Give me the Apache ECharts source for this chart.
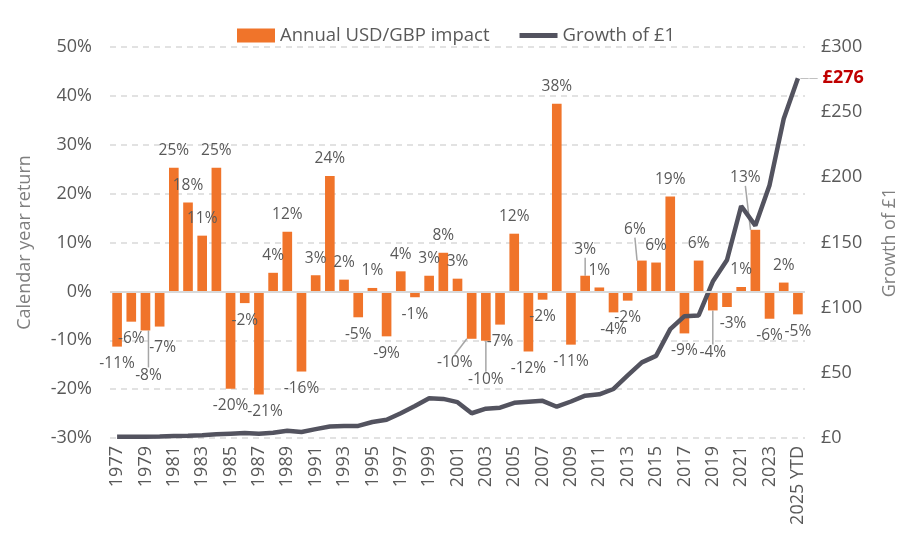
<!DOCTYPE html>
<html>
<head>
<meta charset="utf-8">
<script src="https://cdn.jsdelivr.net/npm/echarts@6/dist/echarts.min.js"></script>
<style>
  html, body { margin: 0; padding: 0; background: #fff; }
  #chart { width: 907px; height: 546px; }
</style>
</head>
<body>
<div id="chart"></div>
<script>
// years on the x axis
var years = ['1977', '1978', '1979', '1980', '1981', '1982', '1983', '1984', '1985', '1986',
    '1987', '1988', '1989', '1990', '1991', '1992', '1993', '1994', '1995', '1996',
    '1997', '1998', '1999', '2000', '2001', '2002', '2003', '2004', '2005', '2006',
    '2007', '2008', '2009', '2010', '2011', '2012', '2013', '2014', '2015', '2016',
    '2017', '2018', '2019', '2020', '2021', '2022', '2023', '2024', '2025 YTD'];

// annual USD/GBP impact, %
var fxImpact = [-11.3, -6.2, -8.0, -7.2, 25.3, 18.2, 11.4, 25.3, -19.9, -2.4,
    -21.1, 3.8, 12.2, -16.4, 3.3, 23.6, 2.4, -5.3, 0.7, -9.2,
    4.1, -1.2, 3.2, 7.9, 2.6, -9.7, -10.1, -6.8, 11.8, -12.3,
    -1.7, 38.4, -10.9, 3.2, 0.8, -4.3, -1.9, 6.3, 5.9, 19.4,
    -8.6, 6.3, -3.9, -3.2, 0.9, 12.6, -5.6, 1.8, -4.7];

// growth of £1, £
var growth = [1, 1, 1, 1.2, 1.5, 1.8, 2.2, 2.8, 3.3, 3.8,
    3.2, 4, 5.5, 4.6, 6.8, 8.8, 9.3, 9.3, 12.3, 14,
    19, 24.5, 30.5, 30, 27.5, 19, 22.5, 23.3, 27, 27.8,
    28.5, 24, 28, 32.5, 33.5, 37.6, 48, 58, 63, 83.5,
    93.5, 94, 120, 136.6, 178, 163, 194, 245, 276];

var leftTicks = { min: -30, max: 50, interval: 10 };
var rightTicks = { min: 0, max: 300, interval: 50 };

// labels nudged off their bars (index -> [dx, dy]), drawn with a leader line
var labelShift = {
    2: [3, 28], 3: [3, 4], 10: [6, 0], 25: [-17, 7], 26: [0, 22],
    33: [0, -9], 37: [-7, -14], 42: [0, 25], 43: [6, 0], 45: [-10, -35]
};

var textColor = '#595959';
var lineColor = '#53535f';
var font = 'Open Sans';

var barData = fxImpact.map(function (v, i) {
    var item = {
        value: v,
        label: { position: v >= 0 ? 'top' : 'bottom' }
    };
    if (labelShift[i] && (Math.abs(labelShift[i][0]) > 8 || Math.abs(labelShift[i][1]) > 8)) {
        item.labelLine = { show: true };
    }
    return item;
});

var chart = echarts.init(document.getElementById('chart'));

var option = {
    backgroundColor: '#fff',
    animation: false,
    textStyle: { fontFamily: font, color: textColor },
    legend: {
        top: 21,
        left: 232,
        itemWidth: 38,
        itemHeight: 14,
        itemGap: 30,
        textStyle: { fontSize: 18.5, color: textColor, fontFamily: font },
        data: [
            { name: 'Annual USD/GBP impact', icon: 'rect' },
            // thin bar inside a 38x14 box, so it reads as a line
            { name: 'Growth of £1', icon: 'path://M0,0M38,14M0,4.6L38,4.6L38,9.4L0,9.4Z', itemStyle: { color: lineColor } }
        ]
    },
    grid: { left: 110, right: 102, top: 47, bottom: 108 },
    xAxis: {
        type: 'category',
        data: years,
        axisLine: { show: false },
        axisTick: { show: false },
        axisLabel: {
            rotate: 90,
            interval: 1,
            fontSize: 18,
            color: textColor,
            fontFamily: font,
            margin: 8
        }
    },
    yAxis: [
        {
            type: 'value',
            min: leftTicks.min,
            max: leftTicks.max,
            interval: leftTicks.interval,
            name: 'Calendar year return',
            nameLocation: 'middle',
            nameGap: 76,
            nameTextStyle: { fontSize: 18, color: '#7f7f7f', fontFamily: font },
            axisLine: { show: false },
            axisTick: { show: false },
            axisLabel: {
                formatter: '{value}%',
                fontSize: 18,
                color: textColor,
                margin: 18
            },
            splitLine: { lineStyle: { type: [6, 5], color: '#d9d9d9', width: 1.5 } }
        },
        {
            type: 'value',
            min: rightTicks.min,
            max: rightTicks.max,
            interval: rightTicks.interval,
            name: 'Growth of £1',
            nameLocation: 'middle',
            nameGap: 76,
            nameTextStyle: { fontSize: 18, color: '#7f7f7f', fontFamily: font },
            axisLine: { show: false },
            axisTick: { show: false },
            axisLabel: {
                formatter: '£{value}',
                fontSize: 18,
                color: textColor,
                margin: 16
            },
            splitLine: { show: false }
        }
    ],
    series: [
        {
            name: 'Annual USD/GBP impact',
            type: 'bar',
            data: barData,
            barWidth: '68%',
            itemStyle: { color: '#f0742a' },
            label: {
                show: true,
                distance: 9,
                fontSize: 15.5,
                color: textColor,
                fontFamily: font,
                formatter: function (p) { return Math.round(p.value) + '%'; }
            },
            labelLine: { show: false, lineStyle: { color: '#a6a6a6', width: 1.5 } },
            labelLayout: function (p) {
                var s = labelShift[p.dataIndex];
                return s ? { dx: s[0], dy: s[1] } : {};
            },
            markLine: {
                silent: true,
                symbol: 'none',
                label: { show: false },
                lineStyle: { type: 'solid', color: '#d9d9d9', width: 2 },
                data: [{ yAxis: 0 }]
            },
            z: 2
        },
        {
            name: 'Growth of £1',
            type: 'line',
            yAxisIndex: 1,
            data: growth,
            symbol: 'none',
            showSymbol: false,
            lineStyle: { color: lineColor, width: 4.5 },
            itemStyle: { color: lineColor },
            endLabel: {
                show: true,
                distance: 2,
                fontFamily: font,
                formatter: function (p) { return '{l|\u2014\u2014}{v| £' + p.value + '}'; },
                rich: {
                    l: { color: '#a6a6a6', fontSize: 9, fontFamily: font },
                    v: { color: '#c00000', fontWeight: 'bold', fontSize: 18, fontFamily: font }
                }
            },
            z: 3
        }
    ]
};

chart.setOption(option);
</script>
</body>
</html>
